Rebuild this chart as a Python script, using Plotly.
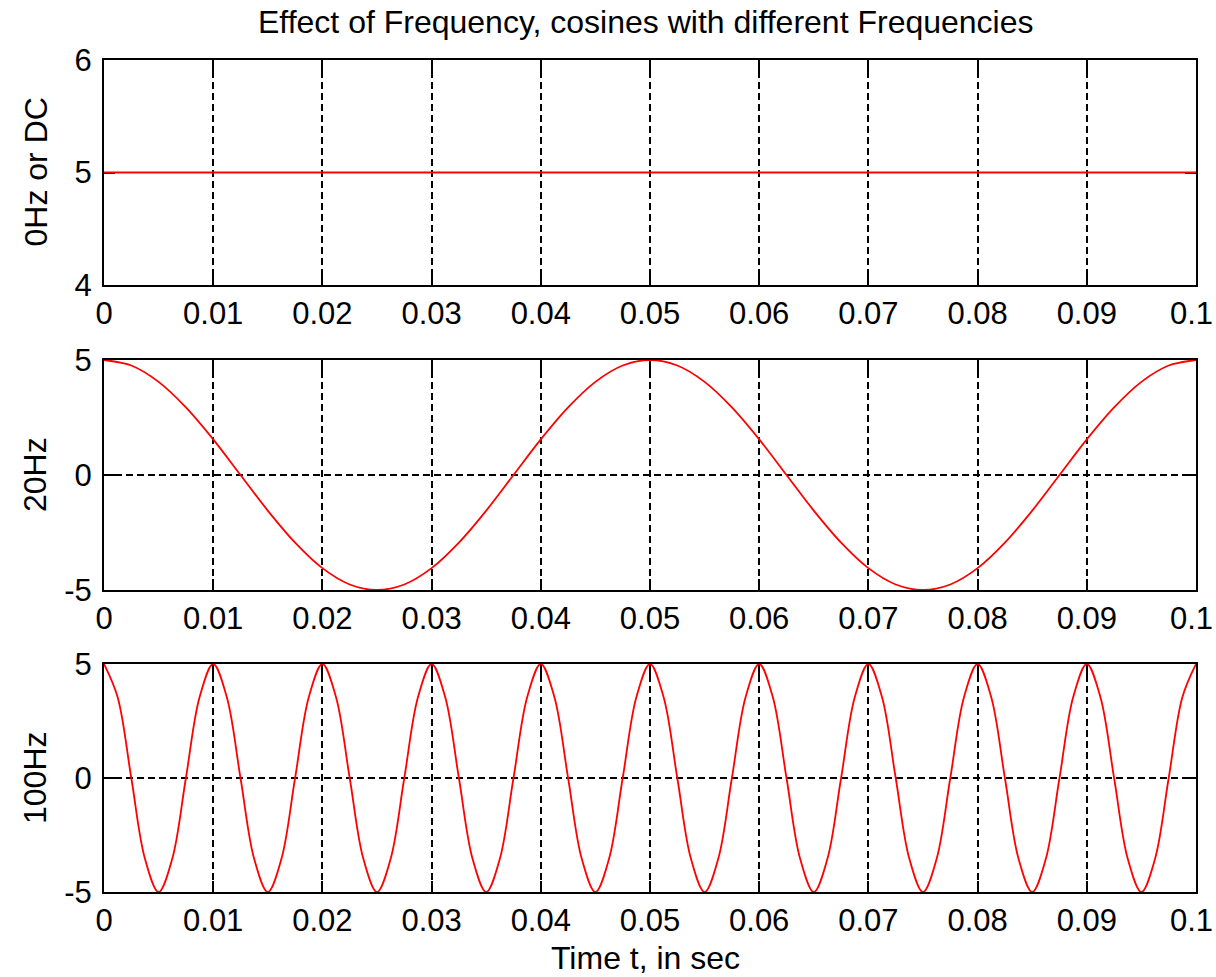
import plotly.graph_objects as go

# ---- data ----
t_dc = [0.0, 0.1]
y_dc = [5, 5]

t_20 = [0.0, 0.0025, 0.005, 0.0075, 0.01, 0.0125, 0.015, 0.0175, 0.02, 0.0225,
        0.025, 0.0275, 0.03, 0.0325, 0.035, 0.0375, 0.04, 0.0425, 0.045, 0.0475,
        0.05, 0.0525, 0.055, 0.0575, 0.06, 0.0625, 0.065, 0.0675, 0.07, 0.0725,
        0.075, 0.0775, 0.08, 0.0825, 0.085, 0.0875, 0.09, 0.0925, 0.095, 0.0975,
        0.1]
y_20 = [5, 4.76, 4.05, 2.94, 1.55, 0, -1.55, -2.94, -4.05, -4.76,
        -5, -4.76, -4.05, -2.94, -1.55, 0, 1.55, 2.94, 4.05, 4.76,
        5, 4.76, 4.05, 2.94, 1.55, 0, -1.55, -2.94, -4.05, -4.76,
        -5, -4.76, -4.05, -2.94, -1.55, 0, 1.55, 2.94, 4.05, 4.76,
        5]

t_100 = [0.0, 0.00125, 0.0025, 0.00375, 0.005, 0.00625, 0.0075, 0.00875,
         0.01, 0.01125, 0.0125, 0.01375, 0.015, 0.01625, 0.0175, 0.01875,
         0.02, 0.02125, 0.0225, 0.02375, 0.025, 0.02625, 0.0275, 0.02875,
         0.03, 0.03125, 0.0325, 0.03375, 0.035, 0.03625, 0.0375, 0.03875,
         0.04, 0.04125, 0.0425, 0.04375, 0.045, 0.04625, 0.0475, 0.04875,
         0.05, 0.05125, 0.0525, 0.05375, 0.055, 0.05625, 0.0575, 0.05875,
         0.06, 0.06125, 0.0625, 0.06375, 0.065, 0.06625, 0.0675, 0.06875,
         0.07, 0.07125, 0.0725, 0.07375, 0.075, 0.07625, 0.0775, 0.07875,
         0.08, 0.08125, 0.0825, 0.08375, 0.085, 0.08625, 0.0875, 0.08875,
         0.09, 0.09125, 0.0925, 0.09375, 0.095, 0.09625, 0.0975, 0.09875,
         0.1]
y_100 = [5, 3.54, 0, -3.54, -5, -3.54, 0, 3.54,
         5, 3.54, 0, -3.54, -5, -3.54, 0, 3.54,
         5, 3.54, 0, -3.54, -5, -3.54, 0, 3.54,
         5, 3.54, 0, -3.54, -5, -3.54, 0, 3.54,
         5, 3.54, 0, -3.54, -5, -3.54, 0, 3.54,
         5, 3.54, 0, -3.54, -5, -3.54, 0, 3.54,
         5, 3.54, 0, -3.54, -5, -3.54, 0, 3.54,
         5, 3.54, 0, -3.54, -5, -3.54, 0, 3.54,
         5, 3.54, 0, -3.54, -5, -3.54, 0, 3.54,
         5, 3.54, 0, -3.54, -5, -3.54, 0, 3.54,
         5]

x_ticks = [0, 0.01, 0.02, 0.03, 0.04, 0.05, 0.06, 0.07, 0.08, 0.09, 0.1]
x_ticklabels = ["0", "0.01", "0.02", "0.03", "0.04", "0.05", "0.06", "0.07", "0.08", "0.09", "0.1"]
y_ticks_dc = [4, 5, 6]
y_ticklabels_dc = ["4", "5", "6"]
y_ticks_ac = [-5, 0, 5]
y_ticklabels_ac = ["-5", "0", "5"]

title_text = "Effect of Frequency, cosines with different Frequencies"
ylabels = ["0Hz or DC", "20Hz", "100Hz"]
xlabel = "Time t, in sec"

# ---- figure ----
W, H = 1216, 977
ML, MR, MT, MB = 104, 20, 60, 85
FONT = "Liberation Sans"
FS_TICK = 31
FS_TEXT = 32

fig = go.Figure()
line = dict(color="#ff0000", width=1.8)
fig.add_trace(go.Scatter(x=t_dc, y=y_dc, mode="lines", line=line, cliponaxis=False,
                         xaxis="x", yaxis="y"))
fig.add_trace(go.Scatter(x=t_20, y=y_20, mode="lines", line=dict(line, shape="spline"),
                         cliponaxis=False, xaxis="x2", yaxis="y2"))
fig.add_trace(go.Scatter(x=t_100, y=y_100, mode="lines", line=dict(line, shape="spline"),
                         cliponaxis=False, xaxis="x3", yaxis="y3"))

ph = H - MT - MB
pw = W - ML - MR
def frac(top_px, bot_px):
    return [(H - MB - bot_px) / ph, (H - MB - top_px) / ph]

def py(px):
    return (H - MB - px) / ph

bottoms_px = [285, 590, 892]
domains = [frac(60, 285), frac(360, 590), frac(664, 892)]

common = dict(showline=True, mirror="ticks", linecolor="black", linewidth=2,
              ticks="inside", ticklen=11, tickcolor="black", tickwidth=1.6,
              showgrid=True, gridcolor="black", gridwidth=1.5, griddash="7px,4px",
              zeroline=False, layer="below traces", ticklabeloverflow="allow",
              automargin=False,
              tickfont=dict(family=FONT, size=FS_TICK, color="black"))

layout = dict(width=W, height=H, margin=dict(l=ML, r=MR, t=MT, b=MB, autoexpand=False),
              paper_bgcolor="white", plot_bgcolor="white", showlegend=False,
              font=dict(family=FONT, size=FS_TICK, color="black"))

# last x tick label is drawn separately so that it stays inside the page
x_ticktext_axis = x_ticklabels[:-1] + [""]

for i in range(3):
    sx = "" if i == 0 else str(i + 1)
    layout["xaxis" + sx] = dict(common, domain=[0, 1], range=[0, 0.1],
                                tickvals=x_ticks, ticktext=x_ticktext_axis,
                                anchor="y" + sx)
    layout["yaxis" + sx] = dict(common, domain=domains[i],
                                range=[4, 6] if i == 0 else [-5, 5],
                                tickvals=y_ticks_dc if i == 0 else y_ticks_ac,
                                ticktext=y_ticklabels_dc if i == 0 else y_ticklabels_ac,
                                ticklabelstandoff=4,
                                showgrid=(i != 0),
                                anchor="x" + sx)

fig.update_layout(**layout)

annotations = [dict(text=title_text, x=(646 - ML) / pw, y=py(22), xref="paper", yref="paper",
                    showarrow=False, xanchor="center", yanchor="middle",
                    font=dict(family=FONT, size=FS_TEXT, color="black"))]
for i, lab in enumerate(ylabels):
    d = domains[i]
    annotations.append(dict(text=lab, textangle=-90, x=(35 - ML) / pw,
                            y=(d[0] + d[1]) / 2, xref="paper", yref="paper",
                            showarrow=False, xanchor="center", yanchor="middle",
                            font=dict(family=FONT, size=FS_TEXT, color="black")))
    sx = "" if i == 0 else str(i + 1)
    annotations.append(dict(text=x_ticklabels[-1], x=x_ticks[-1], xref="x" + sx,
                            y=py(bottoms_px[i] + 28), yref="paper", xshift=-5,
                            showarrow=False, xanchor="center", yanchor="middle",
                            font=dict(family=FONT, size=FS_TICK, color="black")))
annotations.append(dict(text=xlabel, x=(645 - ML) / pw, y=py(958), xref="paper", yref="paper",
                        showarrow=False, xanchor="center", yanchor="middle",
                        font=dict(family=FONT, size=FS_TEXT, color="black")))
fig.update_layout(annotations=annotations)

fig.write_html("out.html")
